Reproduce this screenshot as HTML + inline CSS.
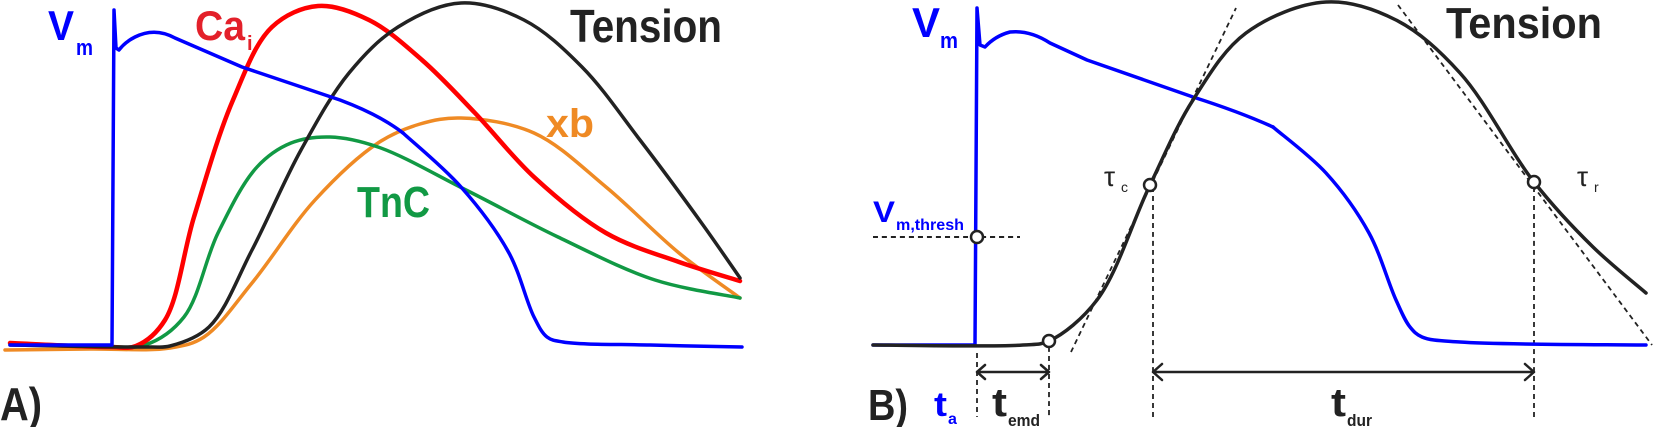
<!DOCTYPE html>
<html><head><meta charset="utf-8"><style>
html,body{margin:0;padding:0;background:#fff;}
svg{display:block;}
text{font-family:"Liberation Sans",sans-serif;font-weight:bold;}
</style></head><body>
<svg id="s" width="1656" height="427" viewBox="0 0 1656 427" xmlns="http://www.w3.org/2000/svg">
<g id="g" fill="none" stroke-linecap="round" stroke-linejoin="round"></g>
<text x="48" y="40" font-size="42" fill="#0000ff" textLength="26" lengthAdjust="spacingAndGlyphs">V</text>
<text x="76" y="55" font-size="22" fill="#0000ff" textLength="17" lengthAdjust="spacingAndGlyphs">m</text>
<text x="195" y="40" font-size="42" fill="#e3202a" textLength="50" lengthAdjust="spacingAndGlyphs">Ca</text>
<text x="247" y="50" font-size="20" fill="#e3202a">i</text>
<text x="570" y="42" font-size="46" fill="#222" textLength="152" lengthAdjust="spacingAndGlyphs">Tension</text>
<text x="546" y="137" font-size="40" fill="#ef8a24" textLength="48" lengthAdjust="spacingAndGlyphs">xb</text>
<text x="357" y="217" font-size="44" fill="#119944" textLength="73" lengthAdjust="spacingAndGlyphs">TnC</text>
<text x="0" y="420" font-size="46" fill="#222" textLength="42" lengthAdjust="spacingAndGlyphs">A)</text>
<text x="912" y="37" font-size="42" fill="#0000ff" textLength="28" lengthAdjust="spacingAndGlyphs">V</text>
<text x="940" y="48" font-size="22" fill="#0000ff" textLength="18" lengthAdjust="spacingAndGlyphs">m</text>
<text x="1446" y="38" font-size="44" fill="#222" textLength="156" lengthAdjust="spacingAndGlyphs">Tension</text>
<text x="873" y="222" font-size="30" fill="#0000ff" textLength="22" lengthAdjust="spacingAndGlyphs">V</text>
<text x="896" y="230" font-size="16" fill="#0000ff" textLength="68" lengthAdjust="spacingAndGlyphs">m,thresh</text>
<text x="1104" y="186" font-size="28" style="font-weight:normal" fill="#222">τ</text>
<text x="1121" y="192" font-size="14" style="font-weight:normal" fill="#222">c</text>
<text x="1577" y="186" font-size="28" style="font-weight:normal" fill="#222">τ</text>
<text x="1594" y="192" font-size="14" style="font-weight:normal" fill="#222">r</text>
<text x="868" y="420" font-size="44" fill="#222" textLength="40" lengthAdjust="spacingAndGlyphs">B)</text>
<text x="934" y="416" font-size="34" fill="#0000ff" textLength="13" lengthAdjust="spacingAndGlyphs">t</text>
<text x="948" y="424" font-size="16" fill="#0000ff">a</text>
<text x="992" y="416" font-size="40" fill="#222" textLength="15" lengthAdjust="spacingAndGlyphs">t</text>
<text x="1008" y="426" font-size="17" fill="#222" textLength="32" lengthAdjust="spacingAndGlyphs">emd</text>
<text x="1331" y="416" font-size="40" fill="#222" textLength="15" lengthAdjust="spacingAndGlyphs">t</text>
<text x="1347" y="426" font-size="17" fill="#222" textLength="25" lengthAdjust="spacingAndGlyphs">dur</text>
</svg>
<script>
function cr(p){var d="M"+p[0][0]+" "+p[0][1];
function dist(a,b){return Math.pow(Math.hypot(a[0]-b[0],a[1]-b[1]),0.5)||1e-6;}
for(var i=0;i<p.length-1;i++){var p0=p[i-1]||p[i],p1=p[i],p2=p[i+1],p3=p[i+2]||p2;
var d1=dist(p0,p1),d2=dist(p1,p2),d3=dist(p2,p3);
if(p0===p1)d1=d2; if(p3===p2)d3=d2;
var b1=[],b2=[];
for(var k=0;k<2;k++){
var t1=(p2[k]-p1[k])/d2*0 ; 
var m1=((p1[k]-p0[k])/d1-(p2[k]-p0[k])/(d1+d2)+(p2[k]-p1[k])/d2)*d2;
var m2=((p2[k]-p1[k])/d2-(p3[k]-p1[k])/(d2+d3)+(p3[k]-p2[k])/d3)*d2;
b1[k]=p1[k]+m1/3; b2[k]=p2[k]-m2/3;}
d+=" C"+b1[0].toFixed(2)+" "+b1[1].toFixed(2)+" "+b2[0].toFixed(2)+" "+b2[1].toFixed(2)+" "+p2[0]+" "+p2[1];}return d;}
var g=document.getElementById("g"),NS="http://www.w3.org/2000/svg";
function P(pts,col,w,dash,raw){var e=document.createElementNS(NS,"path");e.setAttribute("d",raw?pts:cr(pts));e.setAttribute("stroke",col);e.setAttribute("stroke-width",w);if(dash){e.setAttribute("stroke-dasharray",dash);e.setAttribute("stroke-linecap","butt");}g.appendChild(e);}
function C(x,y){var e=document.createElementNS(NS,"circle");e.setAttribute("cx",x);e.setAttribute("cy",y);e.setAttribute("r",6);e.setAttribute("fill","#fff");e.setAttribute("stroke","#222");e.setAttribute("stroke-width",2.5);document.getElementById("s").appendChild(e);}
P([[5,350],[90,349],[170,348],[204,337],[252,283],[315,200],[378,143],[420,124],[461,118],[534,133],[606,187],[679,253],[740,298]],"#ef8a24",3.5);
P([[10,343],[100,346],[145,345],[184,317],[218,233],[257,167],[291,143],[330,137],[378,147],[466,190],[558,237],[655,280],[740,298]],"#119944",3.5);
P([[10,343],[110,347],[136,346],[165,320],[194,217],[233,100],[272,27],[318,6],[369,20],[422,60],[475,113],[534,177],[606,233],[679,262],[740,281]],"#ff0000",4.5);
P([[10,345],[150,347],[170,346],[209,327],[252,250],[301,150],[349,73],[398,27],[461,3],[524,20],[582,67],[640,140],[703,225],[740,278]],"#222",3.5);
P("M10 345 L112 345 L114 10 L116 48 L119 50 Q125 42 135 37 Q155 27 175 38 L242 67 L340 100 Q380 115 403 133","#0000ff",3.5,null,true);
P([[403,133],[461,187],[509,253],[534,317],[547,337],[563,342],[650,345],[742,347]],"#0000ff",3.5);
P([[1071,352],[1236,8]],"#222",1.8,"5,4");
P([[1398,5],[1652,345]],"#222",1.8,"5,4");
P([[873,237],[1020,237]],"#222",2,"5,4");
[[977,353],[1049,347],[1153,187],[1534,187]].forEach(function(v){P([[v[0],v[1]],[v[0],417]],"#222",1.8,"5,4");});
P("M873 345 L975 345 L977 8 L980 45 L985 47 Q995 36 1010 32 Q1030 30 1050 43 L1087 60 L1193 97 Q1240 112 1273 127","#0000ff",3.5,null,true);
P([[1273,127],[1326,173],[1369,233],[1396,300],[1410,327],[1422,337],[1460,342],[1646,345]],"#0000ff",3.5);
P([[873,345],[1023,345],[1049,341],[1097,300],[1150,185],[1193,100],[1246,33],[1326,2],[1396,20],[1460,73],[1534,182],[1593,247],[1646,293]],"#222",3.5);
P("M977 372 L1049 372 M985 365 L977 372 L985 379 M1041 365 L1049 372 L1041 379","#222",2.5,null,true);
P("M1153 372 L1534 372 M1162 364 L1153 372 L1162 380 M1525 364 L1534 372 L1525 380","#222",2.5,null,true);
C(977,237);C(1049,341);C(1150,185);C(1534,182);
</script>
</body></html>
